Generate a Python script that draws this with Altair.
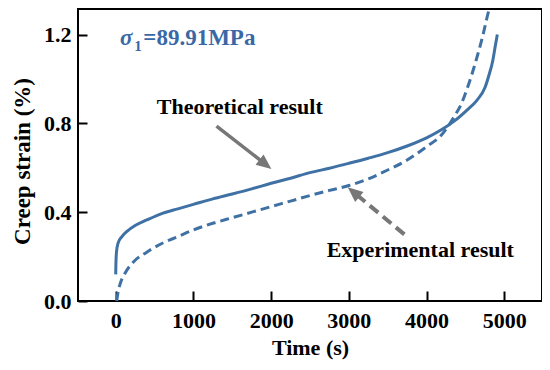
import math
import altair as alt
import pandas as pd

# ---- data ----
solid_t = [0, 3, 10, 30, 80, 150, 250, 400, 600, 800, 1000, 1250, 1500, 1750, 2000,
           2250, 2500, 2750, 3000, 3250, 3500, 3750, 4000, 4185, 4355, 4520, 4650,
           4750, 4805, 4850, 4880, 4910]
solid_v = [0.12, 0.17, 0.22, 0.26, 0.29, 0.315, 0.34, 0.365, 0.395, 0.415, 0.435,
           0.46, 0.482, 0.505, 0.53, 0.553, 0.578, 0.598, 0.62, 0.643, 0.668, 0.698,
           0.735, 0.77, 0.81, 0.86, 0.905, 0.96, 1.02, 1.08, 1.14, 1.20]

dash_t = [13, 30, 60, 120, 225, 400, 600, 800, 1000, 1250, 1500, 1750, 2000, 2250,
          2500, 2750, 3000, 3250, 3500, 3750, 4000, 4185, 4355, 4450, 4520, 4600,
          4650, 4720, 4780, 4830]
dash_v = [0.0, 0.04, 0.08, 0.125, 0.175, 0.22, 0.26, 0.29, 0.32, 0.35, 0.375, 0.40,
          0.425, 0.45, 0.475, 0.498, 0.52, 0.55, 0.59, 0.635, 0.695, 0.745, 0.83,
          0.89, 0.955, 1.04, 1.10, 1.19, 1.28, 1.35]

x_ticks = [0, 1000, 2000, 3000, 4000, 5000]
y_ticks = [0.0, 0.4, 0.8, 1.2]
x_domain = [-485, 5485]
y_domain = [0, 1.315]

label_text = ["Theoretical result", "Experimental result"]
label_t = [1596, 3919]
label_v = [0.84, 0.197]

arrow_tail_t = [1297, 3714]
arrow_tail_v = [0.788, 0.30]
arrow_tip_t = [2003, 2986]
arrow_tip_v = [0.595, 0.512]
arrow_dash = [False, True]

sigma_parts = ["σ", "1", "=89.91MPa"]
sigma_t = [55, 240, 355]
sigma_v = [1.152, 1.128, 1.152]
sigma_size = [23, 15, 23]
sigma_style = ["italic", "normal", "normal"]

# ---- style ----
W, H = 464, 292
BLUE = "#3f71a4"
TEXT_BLUE = "#3a67a6"
GRAY = "#777777"
FONT = "Liberation Serif, Times New Roman, Times, DejaVu Serif, serif"

kx = W / (x_domain[1] - x_domain[0])
ky = H / (y_domain[1] - y_domain[0])

xs = alt.Scale(domain=x_domain, nice=False, zero=False)
ys = alt.Scale(domain=y_domain, nice=False, zero=False)

x_axis = alt.Axis(values=x_ticks, format="d", title="Time (s)", offset=-10, tickSize=10,
                  tickWidth=2, tickColor="black", domain=False, grid=False,
                  labelFont=FONT, labelFontWeight="bold", labelFontSize=22,
                  labelColor="black", labelPadding=9, labelFlush=False,
                  titleFont=FONT, titleFontWeight="bold", titleFontSize=22,
                  titleColor="black", titlePadding=6)
y_axis = alt.Axis(values=y_ticks, format=".1f", title="Creep strain (%)", offset=-9,
                  tickSize=9, tickWidth=2, tickColor="black", domain=False, grid=False,
                  labelFont=FONT, labelFontWeight="bold", labelFontSize=22,
                  labelColor="black", labelPadding=7, labelFlush=False,
                  titleFont=FONT, titleFontWeight="bold", titleFontSize=23,
                  titleColor="black", titlePadding=9, titleY=152)

solid_df = pd.DataFrame({"t": solid_t, "v": solid_v})
dash_df = pd.DataFrame({"t": dash_t, "v": dash_v})

solid = alt.Chart(solid_df).mark_line(color=BLUE, strokeWidth=3, clip=True,
                                      interpolate="monotone").encode(
    x=alt.X("t:Q", scale=xs, axis=x_axis),
    y=alt.Y("v:Q", scale=ys, axis=y_axis),
)
dashed = alt.Chart(dash_df).mark_line(color=BLUE, strokeWidth=3, clip=True,
                                      strokeDash=[9, 5], interpolate="monotone").encode(
    x=alt.X("t:Q", scale=xs),
    y=alt.Y("v:Q", scale=ys),
)

layers = [solid, dashed]

# arrows
HEAD_PATH = "M0,0L1,2.3L-1,2.3Z"
for i in range(len(arrow_tail_t)):
    dx = (arrow_tip_t[i] - arrow_tail_t[i]) * kx
    dy = (arrow_tip_v[i] - arrow_tail_v[i]) * ky
    L = math.hypot(dx, dy)
    f = (L - 10) / L
    end_t = arrow_tail_t[i] + (arrow_tip_t[i] - arrow_tail_t[i]) * f
    end_v = arrow_tail_v[i] + (arrow_tip_v[i] - arrow_tail_v[i]) * f
    ang = math.degrees(math.atan2(dx, dy)) % 360
    seg = pd.DataFrame({"t": [arrow_tail_t[i]], "v": [arrow_tail_v[i]],
                        "t2": [end_t], "v2": [end_v]})
    rule_kw = dict(color=GRAY, strokeWidth=4 if arrow_dash[i] else 3.5, strokeCap="butt")
    if arrow_dash[i]:
        rule_kw["strokeDash"] = [11, 6]
    layers.append(alt.Chart(seg).mark_rule(**rule_kw).encode(
        x=alt.X("t:Q", scale=xs), y=alt.Y("v:Q", scale=ys), x2="t2:Q", y2="v2:Q"))
    head = pd.DataFrame({"t": [arrow_tip_t[i]], "v": [arrow_tip_v[i]], "a": [ang]})
    layers.append(alt.Chart(head).mark_point(shape=HEAD_PATH, filled=True, size=170,
                                             color=GRAY, opacity=1, strokeWidth=0).encode(
        x=alt.X("t:Q", scale=xs), y=alt.Y("v:Q", scale=ys),
        angle=alt.Angle("a:Q", scale=None)))

# labels
lab_df = pd.DataFrame({"t": label_t, "v": label_v, "txt": label_text})
layers.append(alt.Chart(lab_df).mark_text(font=FONT, fontWeight="bold", fontSize=22,
                                          align="center", baseline="alphabetic",
                                          color="black").encode(
    x=alt.X("t:Q", scale=xs), y=alt.Y("v:Q", scale=ys), text="txt:N"))

for i in range(len(sigma_parts)):
    d = pd.DataFrame({"t": [sigma_t[i]], "v": [sigma_v[i]], "txt": [sigma_parts[i]]})
    layers.append(alt.Chart(d).mark_text(font=FONT, fontWeight="bold",
                                         fontSize=sigma_size[i], fontStyle=sigma_style[i],
                                         align="left", baseline="alphabetic",
                                         color=TEXT_BLUE).encode(
        x=alt.X("t:Q", scale=xs), y=alt.Y("v:Q", scale=ys), text="txt:N"))

chart = alt.layer(*layers).properties(
    width=W, height=H,
    padding={"left": 70, "top": 1, "right": 0, "bottom": 61},
    autosize=alt.AutoSizeParams(type="none"),
).configure_view(stroke="black", strokeWidth=2)

chart.save("out.html", embed_options={"renderer": "svg", "actions": False})
